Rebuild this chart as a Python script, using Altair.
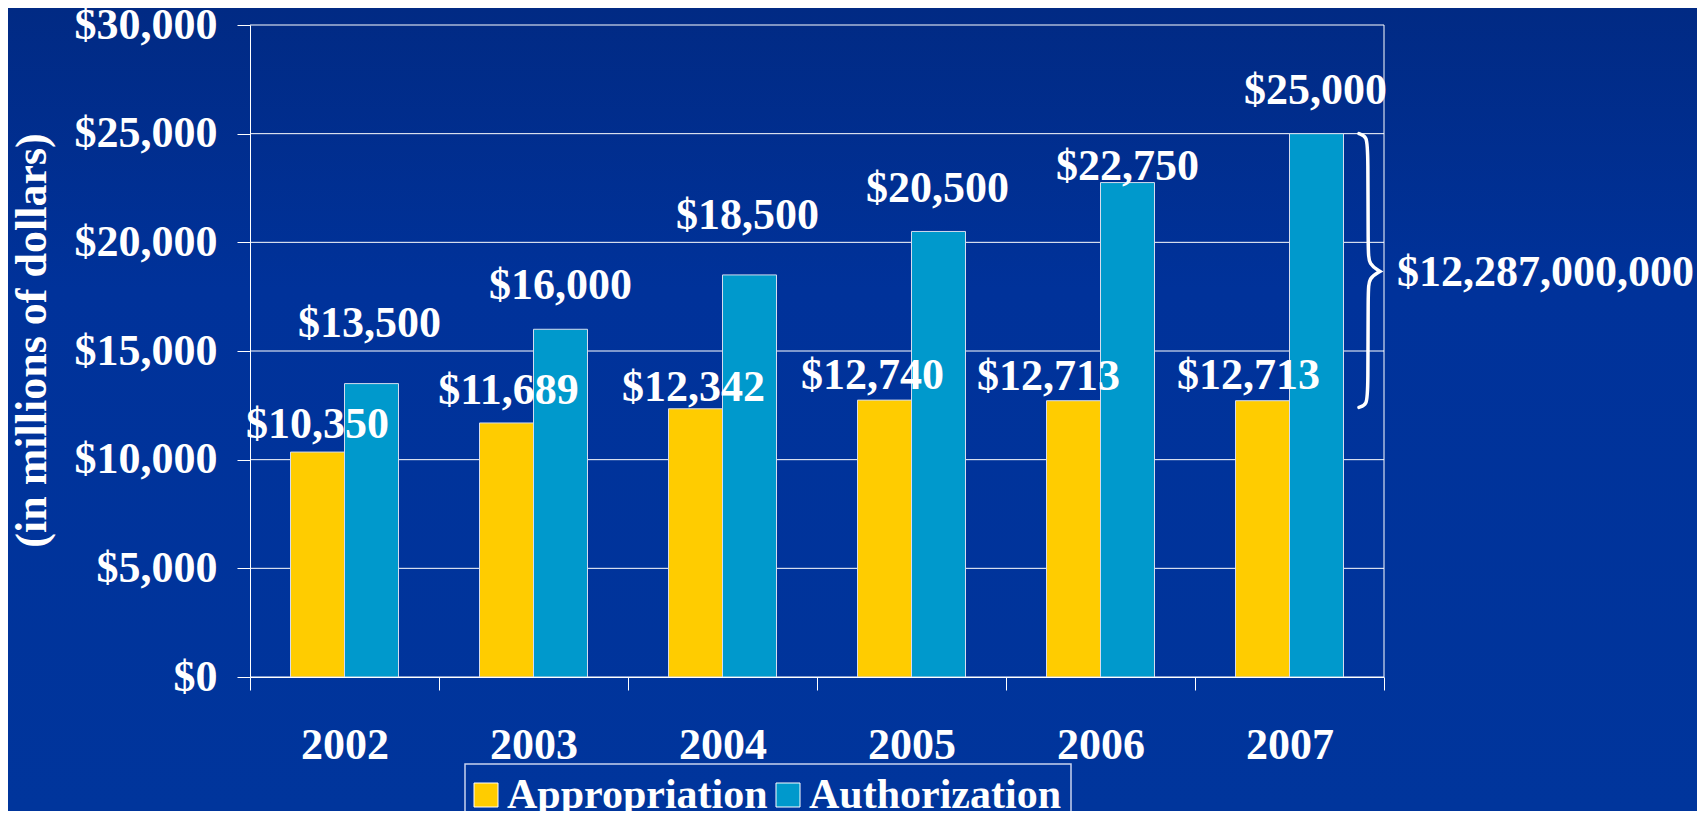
import altair as alt
import pandas as pd

# ---------------- data ----------------
years = ["2002", "2003", "2004", "2005", "2006", "2007"]
appropriation = [10350, 11689, 12342, 12740, 12713, 12713]
authorization = [13500, 16000, 18500, 20500, 22750, 25000]
series = ["Appropriation", "Authorization"]
colors = ["#FFCC00", "#0099CC"]
y_ticks = [0, 5000, 10000, 15000, 20000, 25000, 30000]
y_title = "(in millions of dollars)"

# ---------------- style ----------------
FONT = "Liberation Serif"
W, H = 1134, 652
PAD = {"left": 242, "top": 17, "right": 313, "bottom": 134}
CANVAS_W = PAD["left"] + W + PAD["right"]
CANVAS_H = PAD["top"] + H + PAD["bottom"]

# label nudges in px (dx, dy) as placed on the original slide
approp_nudge = [(0, -14), (2, -19), (-2, -8), (-12, -11), (-25, -11), (-14, -12)]
auth_nudge = [(-2, -47), (0, -30), (-2, -46), (-1, -29), (0, -3), (-1, -30)]

rows = []
for i, yr in enumerate(years):
    rows.append({"year": yr, "series": series[0], "value": appropriation[i]})
    rows.append({"year": yr, "series": series[1], "value": authorization[i]})
df = pd.DataFrame(rows)
df["label"] = df["value"].map(lambda v: f"${v:,}")

x_scale = alt.Scale(domain=years, paddingInner=0, paddingOuter=0)
x_axis = alt.Axis(title=None, labelFont=FONT, labelFontSize=44, labelFontWeight="bold",
                  labelColor="white", labelAngle=0, labelBaseline="alphabetic",
                  labelPadding=68, tickBand="extent", tickSize=13, tickColor="white",
                  tickWidth=1, domainColor="white", domainWidth=1, grid=False, zindex=1)
x_enc = alt.X("year:N", sort=years, scale=x_scale, axis=x_axis)
x_enc_noaxis = alt.X("year:N", sort=years, scale=x_scale, axis=None)
xoff_enc = alt.XOffset("series:N", sort=series,
                       scale=alt.Scale(domain=series, paddingInner=0, paddingOuter=0.75))
y_enc = alt.Y(
    "value:Q",
    scale=alt.Scale(domain=[0, 30000], nice=False),
    axis=alt.Axis(values=y_ticks, format="$,d", title=y_title, labelFont=FONT,
                  labelFontSize=44, labelFontWeight="bold", labelColor="white",
                  labelPadding=20, tickSize=13, tickColor="white", tickWidth=1,
                  domainColor="white", domainWidth=1, grid=False, zindex=1,
                  titleFont=FONT, titleFontSize=44, titleFontWeight="bold",
                  titleColor="white", titlePadding=20, titleY=315),
)

one = pd.DataFrame({"a": [0]})

bg = alt.Chart(one).mark_rect(
    color={"gradient": "linear", "x1": 0, "x2": 0, "y1": 0, "y2": 1,
           "stops": [{"offset": 0, "color": "#012a84"},
                     {"offset": 0.35, "color": "#00329a"},
                     {"offset": 1, "color": "#00359c"}]}
).encode(x=alt.value(-PAD["left"]), x2=alt.value(CANVAS_W - PAD["left"]),
         y=alt.value(-PAD["top"]), y2=alt.value(CANVAS_H - PAD["top"]))

grid = alt.Chart(pd.DataFrame({"value": y_ticks})).mark_rule(
    color="white", strokeWidth=1).encode(y=y_enc)

right_border = alt.Chart(one).mark_rule(color="white", strokeWidth=1).encode(
    x=alt.value(W), y=alt.value(0), y2=alt.value(H))

bars = alt.Chart(df).mark_bar(stroke="#d5dcee", strokeWidth=1).encode(
    x=x_enc, xOffset=xoff_enc, y=y_enc,
    color=alt.Color("series:N", sort=series,
                    scale=alt.Scale(domain=series, range=colors),
                    legend=alt.Legend(title=None, orient="none", legendX=215, legendY=739,
                                      direction="horizontal", symbolType="square",
                                      symbolSize=576, symbolStrokeColor="white",
                                      symbolStrokeWidth=1, symbolOffset=-10,
                                      labelFont=FONT, labelFontSize=42,
                                      labelFontWeight="bold", labelColor="white",
                                      labelOffset=0, labelLimit=500,
                                      columnPadding=6, padding=10,
                                      strokeColor="#c8d2ee")),
)

labels = []
for i, yr in enumerate(years):
    for s, nudges in ((series[0], approp_nudge), (series[1], auth_nudge)):
        dx, dy = nudges[i]
        labels.append(
            alt.Chart(df).transform_filter(
                (alt.datum.year == yr) & (alt.datum.series == s)
            ).mark_text(font=FONT, fontSize=44, fontWeight="bold", color="white",
                        baseline="alphabetic", dx=dx, dy=dy).encode(
                x=x_enc_noaxis, xOffset=xoff_enc, y=y_enc, text="label:N")
        )

# brace spanning the gap between the 2007 appropriation and authorization
top_v = authorization[-1]
bot_v = appropriation[-1]
gap = top_v - bot_v
brace_shape = [(0, 0), (0.38, 0.01), (0.43, 0.07), (0.43, 0.44), (0.47, 0.49),
               (1, 0.516), (1, 0.516), (1, 0.516), (0.47, 0.54), (0.43, 0.59),
               (0.43, 0.96), (0.38, 1.015), (0, 1.025)]
brace_df = pd.DataFrame({
    "i": list(range(len(brace_shape))),
    "bx": [p[0] for p in brace_shape],
    "value": [top_v - p[1] * gap for p in brace_shape],
})
brace = alt.Chart(brace_df).mark_line(
    color="white", strokeWidth=3.5, interpolate="basis", strokeCap="round"
).encode(
    x=alt.X("bx:Q", scale=alt.Scale(domain=[0, 1], range=[1109, 1130]), axis=None),
    y=y_enc, order="i:O",
)
tip_v = top_v - 0.516 * gap
brace_text = alt.Chart(pd.DataFrame({"value": [tip_v],
                                     "txt": [f"${gap * 1_000_000:,}"]})).mark_text(
    font=FONT, fontSize=44, fontWeight="bold", color="white",
    align="left", baseline="alphabetic", dy=15
).encode(x=alt.value(1147), y=y_enc, text="txt:N")

chart = alt.layer(bg, grid, right_border, bars, *labels, brace, brace_text).resolve_scale(
    x="independent"
).properties(
    width=W, height=H, padding=PAD,
    autosize=alt.AutoSizeParams(type="none"),
    background="#00329a",
).configure_view(stroke=None).configure_legend(strokeWidth=1.5)

chart.save("out.html", embed_options={"renderer": "svg", "actions": False})
